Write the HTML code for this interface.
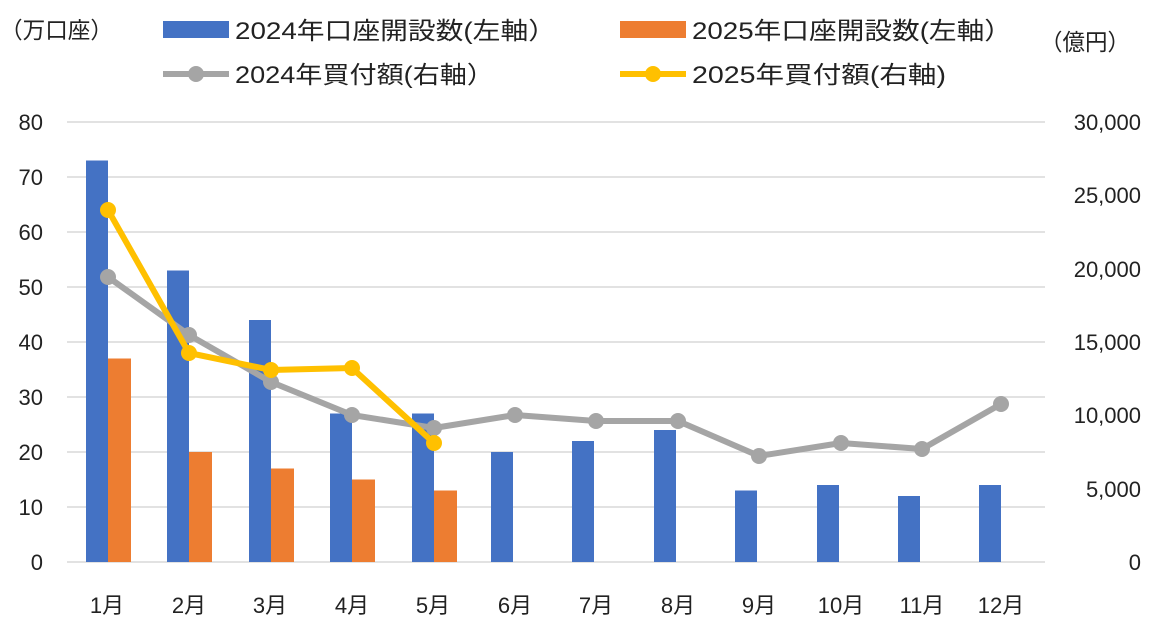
<!DOCTYPE html>
<html><head><meta charset="utf-8"><style>
body{margin:0;background:#fff}
svg text{font-family:"Liberation Sans","Noto Sans CJK JP",sans-serif;fill:#222}
</style></head><body>
<svg width="1160" height="624" xmlns="http://www.w3.org/2000/svg">
<g stroke="#d9d9d9" stroke-width="1.5">
<line x1="67" x2="1045" y1="122" y2="122"/><line x1="67" x2="1045" y1="177" y2="177"/>
<line x1="67" x2="1045" y1="232" y2="232"/><line x1="67" x2="1045" y1="287" y2="287"/>
<line x1="67" x2="1045" y1="342" y2="342"/><line x1="67" x2="1045" y1="397" y2="397"/>
<line x1="67" x2="1045" y1="452" y2="452"/><line x1="67" x2="1045" y1="507" y2="507"/>
<line x1="67" x2="1045" y1="562" y2="562"/>
</g>
<g font-size="22" text-anchor="end">
<text x="43" y="130">80</text><text x="43" y="185">70</text><text x="43" y="240">60</text><text x="43" y="295">50</text><text x="43" y="350">40</text><text x="43" y="405">30</text><text x="43" y="460">20</text><text x="43" y="515">10</text><text x="43" y="570">0</text>
</g>
<g font-size="22" text-anchor="end">
<text x="1141" y="130">30,000</text><text x="1141" y="203">25,000</text><text x="1141" y="277">20,000</text><text x="1141" y="350">15,000</text><text x="1141" y="423">10,000</text><text x="1141" y="497">5,000</text><text x="1141" y="570">0</text>
</g>
<g fill="#4472c4">
<rect x="86" y="160.5" width="22" height="401.5"/><rect x="167" y="270.5" width="22" height="291.5"/><rect x="249" y="320" width="22" height="242"/><rect x="330" y="413.5" width="22" height="148.5"/><rect x="412" y="413.5" width="22" height="148.5"/><rect x="491" y="452" width="22" height="110"/><rect x="572" y="441" width="22" height="121"/><rect x="654" y="430" width="22" height="132"/><rect x="735" y="490.5" width="22" height="71.5"/><rect x="817" y="485" width="22" height="77"/><rect x="898" y="496" width="22" height="66"/><rect x="979" y="485" width="22" height="77"/>
</g>
<g fill="#ed7d31">
<rect x="108" y="358.5" width="23" height="203.5"/><rect x="189" y="452" width="23" height="110"/><rect x="271" y="468.5" width="23" height="93.5"/><rect x="352" y="479.5" width="23" height="82.5"/><rect x="434" y="490.5" width="23" height="71.5"/>
</g>
<polyline fill="none" stroke="#a5a5a5" stroke-width="6" stroke-linejoin="round" points="108,277 189,335 271,382 352,415 434,428 515,415 596,421 678,421 759,456 841,443 922,449 1001,404"/>
<g fill="#a5a5a5"><circle cx="108" cy="277" r="8"/><circle cx="189" cy="335" r="8"/><circle cx="271" cy="382" r="8"/><circle cx="352" cy="415" r="8"/><circle cx="434" cy="428" r="8"/><circle cx="515" cy="415" r="8"/><circle cx="596" cy="421" r="8"/><circle cx="678" cy="421" r="8"/><circle cx="759" cy="456" r="8"/><circle cx="841" cy="443" r="8"/><circle cx="922" cy="449" r="8"/><circle cx="1001" cy="404" r="8"/></g>
<polyline fill="none" stroke="#ffc000" stroke-width="6" stroke-linejoin="round" points="108,210 189,353 271,370 352,368 434,443"/>
<g fill="#ffc000"><circle cx="108" cy="210" r="8"/><circle cx="189" cy="353" r="8"/><circle cx="271" cy="370" r="8"/><circle cx="352" cy="368" r="8"/><circle cx="434" cy="443" r="8"/></g>
<g font-size="22" text-anchor="middle">
<text x="107" y="613">1月</text><text x="189" y="613">2月</text><text x="270" y="613">3月</text><text x="352" y="613">4月</text><text x="433" y="613">5月</text><text x="515" y="613">6月</text><text x="596" y="613">7月</text><text x="678" y="613">8月</text><text x="759" y="613">9月</text><text x="841" y="613">10月</text><text x="922" y="613">11月</text><text x="1001" y="613">12月</text>
</g>
<text x="0" y="38" font-size="23" textLength="113" lengthAdjust="spacingAndGlyphs">（万口座）</text>
<text x="1040" y="50" font-size="23" textLength="90" lengthAdjust="spacingAndGlyphs">（億円）</text>
<rect x="163" y="21" width="66" height="17" fill="#4472c4"/>
<text x="235" y="39" font-size="24" textLength="321" lengthAdjust="spacingAndGlyphs">2024年口座開設数(左軸）</text>
<rect x="620" y="21" width="66" height="17" fill="#ed7d31"/>
<text x="692" y="39" font-size="24" textLength="320" lengthAdjust="spacingAndGlyphs">2025年口座開設数(左軸）</text>
<line x1="163" x2="229" y1="74" y2="74" stroke="#a5a5a5" stroke-width="6"/><circle cx="196" cy="74" r="8" fill="#a5a5a5"/>
<text x="235" y="83" font-size="24" textLength="259" lengthAdjust="spacingAndGlyphs">2024年買付額(右軸）</text>
<line x1="620" x2="686" y1="74" y2="74" stroke="#ffc000" stroke-width="6"/><circle cx="653" cy="74" r="8" fill="#ffc000"/>
<text x="692" y="83" font-size="24" textLength="254" lengthAdjust="spacingAndGlyphs">2025年買付額(右軸)</text>
</svg>
</body></html>
